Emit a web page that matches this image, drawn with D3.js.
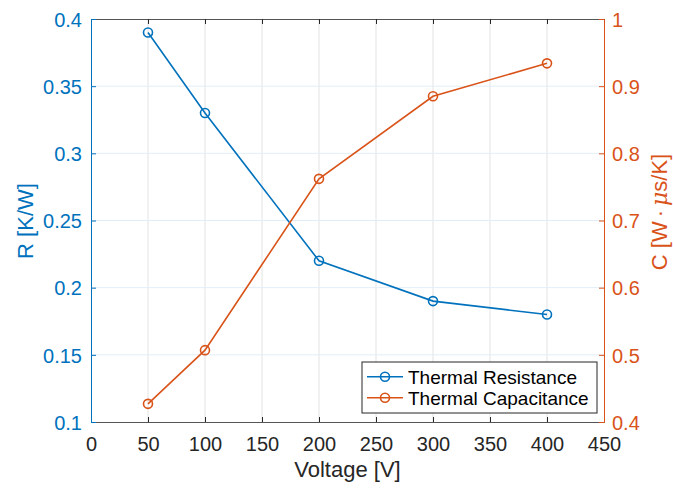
<!DOCTYPE html>
<html><head><meta charset="utf-8">
<script src="https://cdn.jsdelivr.net/npm/d3@7"></script>
<style>body{margin:0;background:#fff}svg{display:block}text{font-family:"Liberation Sans",Arial,sans-serif}</style>
</head><body><svg id="c" width="673" height="489"></svg>
<script>
const voltage = [50, 100, 200, 300, 400];
const resistance = [0.39, 0.33, 0.22, 0.19, 0.18];
const capacitance = [0.427, 0.507, 0.762, 0.885, 0.934];
const xTicks = [0, 50, 100, 150, 200, 250, 300, 350, 400, 450];
const rTicks = [0.1, 0.15, 0.2, 0.25, 0.3, 0.35, 0.4];
const cTicks = [0.4, 0.5, 0.6, 0.7, 0.8, 0.9, 1];
const seriesNames = ["Thermal Resistance", "Thermal Capacitance"];

const blue = "#0072BD", orange = "#D95319", dark = "#262626";
const L = 91, R = 604, T = 19, B = 422;
const svg = d3.select("#c");
const x = d3.scaleLinear().domain([0, 450]).range([L, R]);
const yR = d3.scaleLinear().domain([0.1, 0.4]).range([B, T]);
const yC = d3.scaleLinear().domain([0.4, 1]).range([B, T]);

// grid
svg.append("g").selectAll("line").data(xTicks.slice(1, -1)).join("line")
  .attr("x1", d => x(d)).attr("x2", d => x(d)).attr("y1", T).attr("y2", B)
  .attr("stroke", "#e3e3e3").attr("stroke-width", 1);
svg.append("g").selectAll("line").data(rTicks.slice(1, -1)).join("line")
  .attr("x1", L).attr("x2", R).attr("y1", d => yR(d)).attr("y2", d => yR(d))
  .attr("stroke", "#e1eef7").attr("stroke-width", 1);

// axes
const fs = "20px";
const xAxis = svg.append("g").attr("transform", `translate(0,${B})`)
  .call(d3.axisBottom(x).tickValues(xTicks).tickSize(-5).tickFormat(d3.format("d")));
const xTop = svg.append("g").attr("transform", `translate(0,${T})`)
  .call(d3.axisTop(x).tickValues(xTicks).tickSize(-5).tickFormat(""));
[xAxis, xTop].forEach(g => { g.selectAll("path,line").attr("stroke", dark); g.select("path").attr("stroke", "#555"); });
xAxis.selectAll("text").attr("fill", dark).style("font-size", fs).attr("y", 29).attr("dy", 0);

const yAxisL = svg.append("g").attr("transform", `translate(${L},0)`)
  .call(d3.axisLeft(yR).tickValues(rTicks).tickSize(-5).tickFormat(d => String(+d.toFixed(2))));
yAxisL.selectAll("path,line").attr("stroke", blue);
yAxisL.selectAll("text").attr("fill", blue).style("font-size", fs).attr("x", -9).attr("dy", "0.36em");

const yAxisR = svg.append("g").attr("transform", `translate(${R},0)`)
  .call(d3.axisRight(yC).tickValues(cTicks).tickSize(-5).tickFormat(d => String(+d.toFixed(1))));
yAxisR.selectAll("path,line").attr("stroke", orange);
yAxisR.selectAll("text").attr("fill", orange).style("font-size", fs).attr("x", 8).attr("dy", "0.36em");
svg.selectAll(".domain").attr("stroke-width", 1);

// lines
const lineR = d3.line().x((d, i) => x(voltage[i])).y(d => yR(d));
const lineC = d3.line().x((d, i) => x(voltage[i])).y(d => yC(d));
svg.append("path").attr("d", lineR(resistance)).attr("fill", "none").attr("stroke", blue).attr("stroke-width", 1.6);
svg.append("path").attr("d", lineC(capacitance)).attr("fill", "none").attr("stroke", orange).attr("stroke-width", 1.6);
svg.append("g").selectAll("circle").data(resistance).join("circle")
  .attr("cx", (d, i) => x(voltage[i])).attr("cy", d => yR(d)).attr("r", 4.5)
  .attr("fill", "none").attr("stroke", blue).attr("stroke-width", 1.6);
svg.append("g").selectAll("circle").data(capacitance).join("circle")
  .attr("cx", (d, i) => x(voltage[i])).attr("cy", d => yC(d)).attr("r", 4.5)
  .attr("fill", "none").attr("stroke", orange).attr("stroke-width", 1.6);

// axis labels
svg.append("text").attr("x", (L + R) / 2).attr("y", 477).attr("text-anchor", "middle")
  .attr("fill", dark).style("font-size", "22px").text("Voltage [V]");
svg.append("text").attr("transform", `translate(33,221) rotate(-90)`).attr("text-anchor", "middle")
  .attr("fill", blue).style("font-size", "22px").text("R [K/W]");
const cl = svg.append("text").attr("transform", `translate(667,212) rotate(-90)`).attr("text-anchor", "middle")
  .attr("fill", orange).style("font-size", "22px");
cl.append("tspan").text("C [W");
cl.append("tspan").attr("dx", 4).text("\u00B7");
cl.append("tspan").attr("dx", 4).style("font-family", "'DejaVu Serif',serif").style("font-style", "italic").text("\u03BC");
cl.append("tspan").text("s/K]");

// legend
const lg = svg.append("g");
lg.append("rect").attr("x", 362).attr("y", 362).attr("width", 235).attr("height", 51)
  .attr("fill", "#fff").attr("stroke", dark).attr("stroke-width", 1);
[blue, orange].forEach((col, i) => {
  const yy = 376.7 + i * 21;
  lg.append("line").attr("x1", 367).attr("x2", 403).attr("y1", yy).attr("y2", yy).attr("stroke", col).attr("stroke-width", 1.6);
  lg.append("circle").attr("cx", 385).attr("cy", yy).attr("r", 4.5).attr("fill", "none").attr("stroke", col).attr("stroke-width", 1.6);
  lg.append("text").attr("x", 408).attr("y", yy + 6.8).attr("fill", "#000").style("font-size", "19px").text(seriesNames[i]);
});
</script></body></html>
